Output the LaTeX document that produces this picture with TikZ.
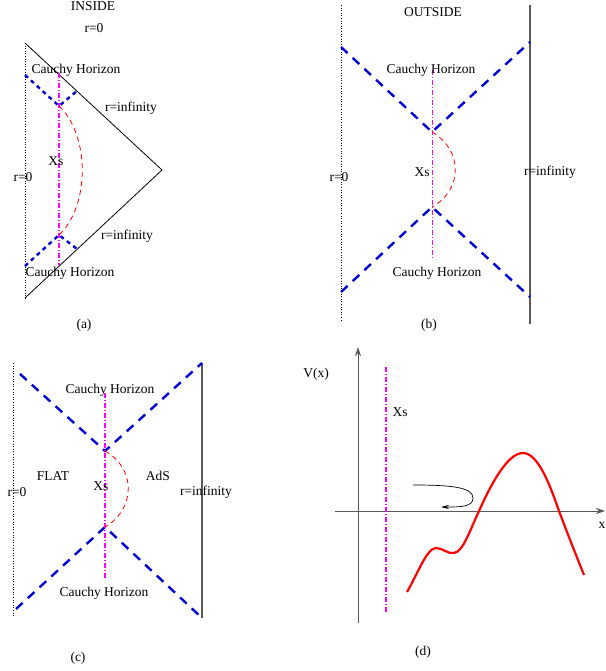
\documentclass[tikz,border=0pt]{standalone}
\usepackage{fontspec}
\setmainfont{Liberation Serif}
\usetikzlibrary{arrows.meta}
\definecolor{hblue}{RGB}{0,0,205}
\definecolor{xsmag}{RGB}{255,0,255}
\tikzset{
  horizon/.style={draw=hblue, line width=2.4pt, dash pattern=on 9pt off 7pt},
  horizonsm/.style={draw=hblue, line width=2.4pt, dash pattern=on 4pt off 4pt},
  wall/.style={draw=gray!70!black, line width=1.5pt},
  origin/.style={draw, line width=0.6pt, dotted},
  xsline/.style={color=xsmag, line width=1.3pt, dash pattern=on 5pt off 2pt on 1pt off 2pt},
  bounce/.style={color=red, line width=0.8pt, dash pattern=on 5pt off 4pt},
  lbl/.style={font=\fontsize{13.5}{15}\selectfont, inner sep=0pt},
  axis/.style={-{Stealth[length=9pt,width=6pt]}, line width=0.8pt, draw=gray!70!black},
}

\begin{document}
\begin{tikzpicture}[x=1pt, y=-1pt]
  \useasboundingbox (0,0) rectangle (605,671);
  % (a) inside
  \coordinate (atop) at (25,43); \coordinate (atip) at (162,170); \coordinate (abot) at (25,298);
  \coordinate (aup) at (59,106); \coordinate (adn) at (59,235);
  \draw[origin] (atop) -- (abot);
  \draw[line width=0.8pt] (atop) -- (atip) -- (abot);
  \draw[horizonsm] (25,75) -- (aup) -- (77,91);
  \draw[horizonsm] (25,266) -- (adn) -- (77,249);
  \draw[xsline] (59,73) -- (59,265);
  \draw[bounce] (aup) .. controls (90,135) and (90,206) .. (adn);
  \node[lbl] (ain) at (93,6) {INSIDE};
  \node[lbl] (ar0top) at (94,28) {r=0};
  \node[lbl] (ach1) at (76,70) {Cauchy Horizon};
  \node[lbl] (ainf1) at (131,108) {r=infinity};
  \node[lbl] (axs) at (56,161) {Xs};
  \node[lbl] (ar0) at (23,177) {r=0};
  \node[lbl] (ainf2) at (127,236) {r=infinity};
  \node[lbl] (ach2) at (70,273) {Cauchy Horizon};
  \node[lbl] (acap) at (84,325) {(a)};
  % (b) outside
  \begin{scope}[shift={(300,0)}]
    \coordinate (bup) at (132,132); \coordinate (bdn) at (132,207);
    \draw[origin] (41,5) -- (41,322);
    \draw[wall] (230,5) -- (230,324);
    \draw[horizon] (41,47) -- (bup) -- (230,42);
    \draw[horizon] (41,292) -- (bdn) -- (230,297);
    \draw[xsline] (132.5,70) -- (132.5,259);
    \draw[bounce] (bup) .. controls (163,150) and (163,190) .. (bdn);
    \node[lbl] (bout) at (133,12) {OUTSIDE};
    \node[lbl] (bch1) at (131,70) {Cauchy Horizon};
    \node[lbl] (br0) at (39,177) {r=0};
    \node[lbl] (bxs) at (122,172) {Xs};
    \node[lbl] (binf) at (250,172) {r=infinity};
    \node[lbl] (bch2) at (137,273) {Cauchy Horizon};
    \node[lbl] (bcap) at (129,325) {(b)};
  \end{scope}
  % (c) flat inside AdS
  \begin{scope}[shift={(0,340)}]
    \coordinate (cup) at (105,111); \coordinate (cdn) at (105,187);
    \draw[origin] (13,23) -- (13,276);
    \draw[wall] (202,23) -- (202,278);
    \draw[horizon] (20,34) -- (cup) -- (202,23);
    \draw[horizon] (16,269) -- (cdn) -- (202,278);
    \draw[xsline] (105,53) -- (105,238);
    \draw[bounce] (cup) .. controls (136,128) and (136,169) .. (cdn);
    \node[lbl] (cch1) at (110,50) {Cauchy Horizon};
    \node[lbl] (cflat) at (53,136) {FLAT};
    \node[lbl] (cxs) at (101,146) {Xs};
    \node[lbl] (cads) at (158,136) {AdS};
    \node[lbl] (cr0) at (17,152) {r=0};
    \node[lbl] (cinf) at (206,152) {r=infinity};
    \node[lbl] (cch2) at (104,253) {Cauchy Horizon};
    \node[lbl] (ccap) at (78,318) {(c)};
  \end{scope}
  % (d) potential
  \begin{scope}[shift={(300,340)}]
    \draw[axis] (58,283) -- (58,7);
    \draw[axis] (35,171) -- (305,171);
    \draw[xsline] (86,27) -- (86,273);
    \draw[red, line width=2.2pt, line join=round] (107,252) .. controls (118,233) and (127,208) .. (136,208)
      .. controls (143,208) and (147,214) .. (154,213) .. controls (163,212) and (170,190) .. (179,171)
      .. controls (192,142) and (208,113) .. (223,113) .. controls (238,113) and (250,145) .. (259,171)
      .. controls (268,195) and (278,220) .. (284,235);
    \draw[-{Stealth[length=8pt,width=4pt]}, line width=0.7pt] (113,145) .. controls (150,145) and (173,147) .. (173,158)
      .. controls (173,167) and (160,167) .. (141,167);
    \node[lbl] (dv) at (16,34) {V(x)};
    \node[lbl] (dxs) at (100,72) {Xs};
    \node[lbl] (dx) at (302,185) {x};
    \node[lbl] (dcap) at (123,312) {(d)};
  \end{scope}
\end{tikzpicture}
\end{document}
